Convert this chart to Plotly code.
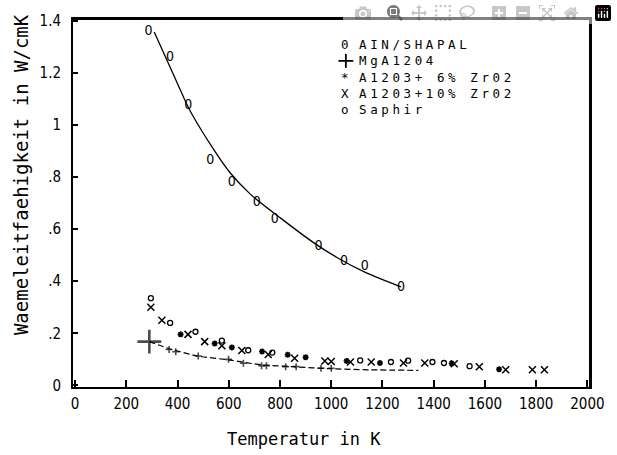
import plotly.graph_objects as go

# ---------------- data ----------------
aln_T = [287, 371, 442, 528, 612, 709, 780, 950, 1050, 1131, 1272]
aln_k = [1.357, 1.26, 1.076, 0.865, 0.78, 0.703, 0.638, 0.534, 0.474, 0.457, 0.377]

aln_fit_T = [309, 358, 424, 451, 548, 606, 683, 805, 928, 1024, 1127, 1250, 1272]
aln_fit_k = [1.356, 1.250, 1.105, 1.050, 0.895, 0.815, 0.735, 0.640, 0.550, 0.490, 0.437, 0.387, 0.378]

mg_T = [290, 367, 393, 481, 599, 657, 728, 747, 822, 863, 960, 1000]
mg_k = [0.168, 0.138, 0.129, 0.113, 0.100, 0.085, 0.076, 0.076, 0.072, 0.072, 0.066, 0.066]

mg_fit_T = [290, 371, 480, 600, 730, 850, 1000, 1150, 1340]
mg_fit_k = [0.168, 0.140, 0.113, 0.098, 0.079, 0.072, 0.064, 0.060, 0.058]

zr6_T = [412, 545, 612, 730, 830, 900, 1060, 1190, 1470, 1655]
zr6_k = [0.196, 0.161, 0.146, 0.130, 0.118, 0.108, 0.094, 0.086, 0.084, 0.062]

zr10_T = [296, 339, 441, 506, 573, 651, 754, 857, 975, 1000, 1075, 1156, 1282, 1365, 1480, 1578, 1681, 1785, 1832]
zr10_k = [0.300, 0.250, 0.196, 0.168, 0.152, 0.134, 0.119, 0.104, 0.094, 0.092, 0.090, 0.090, 0.086, 0.086, 0.083, 0.072, 0.060, 0.060, 0.060]

saph_T = [296, 371, 470, 573, 676, 770, 1113, 1233, 1300, 1395, 1440, 1540]
saph_k = [0.335, 0.240, 0.206, 0.172, 0.135, 0.126, 0.096, 0.090, 0.095, 0.090, 0.086, 0.074]

x_ticks = [0, 200, 400, 600, 800, 1000, 1200, 1400, 1600, 1800, 2000]
y_ticks = [0, 0.2, 0.4, 0.6, 0.8, 1.0, 1.2, 1.4]
y_ticktext = ["0", ".2", ".4", ".6", ".8", "1", "1.2", "1.4"]

legend_symbols = ["0", " ", "*", "X", "o"]
legend_labels = ["AIN/SHAPAL", "MgA1204", "A1203+ 6% Zr02", "A1203+10% Zr02", "Saphir"]

# ---------------- figure ----------------
NARROW = "Liberation Sans Narrow, DejaVu Sans Condensed, sans-serif"
TICKFONT = dict(family=NARROW, size=15, color="black")
MONO = "DejaVu Sans Mono, monospace"

fig = go.Figure()

# fitted curves
fig.add_trace(go.Scatter(x=aln_fit_T, y=aln_fit_k, mode="lines",
                         line=dict(color="black", width=1.3, shape="spline", smoothing=0.8),
                         showlegend=False, hoverinfo="skip"))
fig.add_trace(go.Scatter(x=mg_fit_T, y=mg_fit_k, mode="lines",
                         line=dict(color="black", width=1.2, shape="spline", smoothing=0.8, dash="6px,3px"),
                         showlegend=False, hoverinfo="skip"))

# data markers
fig.add_trace(go.Scatter(x=aln_T, y=aln_k, mode="text", text=["0"] * len(aln_T),
                         textfont=dict(family=NARROW, size=14, color="black"),
                         name="AIN/SHAPAL", showlegend=False))
fig.add_trace(go.Scatter(x=mg_T, y=mg_k, mode="markers", name="MgA1204", showlegend=False,
                         marker=dict(symbol="cross-thin-open", color="black",
                                     size=[17] + [5] * (len(mg_T) - 1),
                                     line=dict(color="black", width=[2.6] + [1.6] * (len(mg_T) - 1)))))
fig.add_trace(go.Scatter(x=zr6_T, y=zr6_k, mode="markers", name="A1203+ 6% Zr02", showlegend=False,
                         marker=dict(symbol="asterisk-open", color="black", size=5,
                                     line=dict(color="black", width=1.6))))
fig.add_trace(go.Scatter(x=zr10_T, y=zr10_k, mode="markers", name="A1203+10% Zr02", showlegend=False,
                         marker=dict(symbol="x-thin-open", color="black", size=7,
                                     line=dict(color="black", width=1.5))))
fig.add_trace(go.Scatter(x=saph_T, y=saph_k, mode="markers", name="Saphir", showlegend=False,
                         marker=dict(symbol="circle-open", color="black", size=5,
                                     line=dict(color="black", width=1.3))))

# ---------------- layout ----------------
W, H = 617, 455
PL, PR, PT, PB = 73, 595, 18, 387          # plot-area edges in page pixels (body margin removed)
L, T, R, B = PL, PT, W - PR, H - PB
pw, ph = PR - PL, PB - PT


def px_x(p):
    return (p - PL) / pw


def px_y(p):
    return (PB - p) / ph


annotations = []
# legend as two multi-line text blocks (symbols column + labels column), same line spacing
annotations.append(dict(x=px_x(348), y=px_y(76), xref="paper", yref="paper",
                        text="<br>".join(legend_symbols), showarrow=False, align="center",
                        xanchor="center", yanchor="middle",
                        font=dict(family=MONO, size=12.5, color="black")))
annotations.append(dict(x=px_x(360), y=px_y(76), xref="paper", yref="paper",
                        text="<br>".join('<span style="letter-spacing:3.6px">' + s + '</span>' for s in legend_labels),
                        showarrow=False, align="left",
                        xanchor="left", yanchor="middle",
                        font=dict(family=MONO, size=12.5, color="black")))

annotations.append(dict(x=px_x(20), y=px_y(174), xref="paper", yref="paper",
                        text="Waemeleitfaehigkeit in W/cmK", textangle=-90, showarrow=False,
                        xanchor="center", yanchor="middle", font=dict(family=MONO, size=19, color="black")))
annotations.append(dict(x=px_x(306), y=px_y(439), xref="paper", yref="paper",
                        text="Temperatur in K", showarrow=False,
                        xanchor="center", yanchor="middle", font=dict(family=MONO, size=17, color="black")))

shapes = [
    # plot frame (top and right edges drawn explicitly)
    dict(type="line", xref="paper", yref="paper", x0=0, x1=1, y0=1, y1=1,
         line=dict(color="black", width=2), layer="above"),
    dict(type="line", xref="paper", yref="paper", x0=1, x1=1, y0=0, y1=1,
         line=dict(color="black", width=2), layer="above"),
    # the "+" legend symbol drawn as a small cross
    dict(type="line", xref="paper", yref="paper", x0=px_x(341), x1=px_x(356), y0=px_y(60), y1=px_y(60),
         line=dict(color="black", width=1.8)),
    dict(type="line", xref="paper", yref="paper", x0=px_x(348.5), x1=px_x(348.5), y0=px_y(53), y1=px_y(67),
         line=dict(color="black", width=1.8)),
]

fig.update_layout(
    width=W, height=H,
    margin=dict(l=L, r=R, t=T, b=B),
    paper_bgcolor="white", plot_bgcolor="white",
    showlegend=False,
    annotations=annotations,
    shapes=shapes,
    xaxis=dict(range=[-8, 2010], tickmode="array", tickvals=x_ticks, ticks="inside", ticklen=7,
               tickwidth=1.5, tickcolor="black", showgrid=False, zeroline=False,
               showline=True, linecolor="black", linewidth=2, mirror=True, tickfont=TICKFONT,
               ticklabelstandoff=2),
    yaxis=dict(range=[-0.006, 1.406], tickmode="array", tickvals=y_ticks, ticktext=y_ticktext,
               ticks="inside", ticklen=5, tickwidth=1.5, tickcolor="black", showgrid=False, zeroline=False,
               showline=True, linecolor="black", linewidth=2, mirror=True, tickfont=TICKFONT,
               ticklabelstandoff=7),
)

fig.write_html("out.html",
               post_script="document.body.style.margin='0';document.body.style.overflow='hidden';")
